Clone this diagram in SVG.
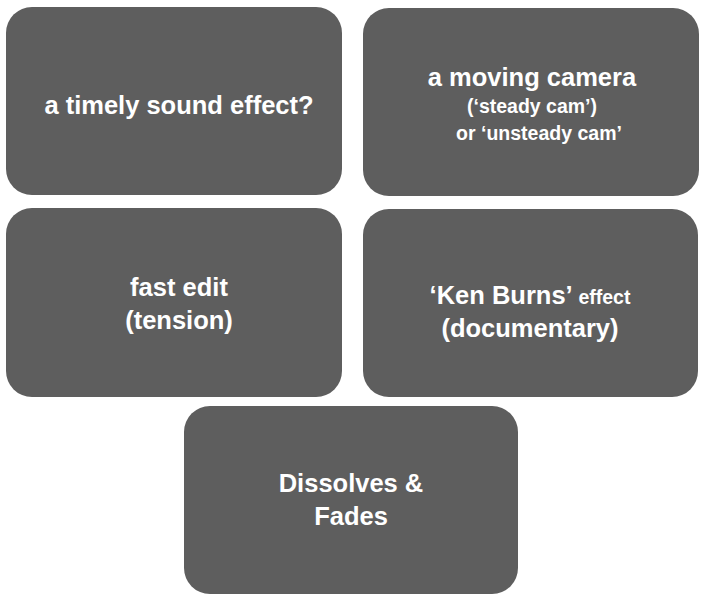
<svg xmlns="http://www.w3.org/2000/svg" width="706" height="599" viewBox="0 0 706 599">
<style>
.b{fill:#5e5e5e}
.t{font-family:"Liberation Sans",Arial,sans-serif;font-weight:bold;fill:#fff;text-anchor:middle;font-size:25.5px}
.s{font-size:19.5px}
</style>
<rect width="706" height="599" fill="#fff"/>
<g id="n1"><rect class="b" x="6" y="7" width="336" height="188" rx="26"/><text class="t" x="179" y="114">a timely sound effect?</text></g>
<g id="n2"><rect class="b" x="363" y="8" width="336" height="188" rx="26"/><text class="t" x="532" y="86">a moving camera</text><text class="t s" x="532" y="113">(‘steady cam’)</text><text class="t s" x="539" y="140">or ‘unsteady cam’</text></g>
<g id="n3"><rect class="b" x="6" y="208" width="336" height="189" rx="26"/><text class="t" x="179" y="296">fast edit</text><text class="t" x="179" y="329">(tension)</text></g>
<g id="n4"><rect class="b" x="363" y="209" width="335" height="188" rx="26"/><text class="t" x="530" y="304">‘Ken Burns’ <tspan class="s">effect</tspan></text><text class="t" x="530" y="337">(documentary)</text></g>
<g id="n5"><rect class="b" x="184" y="406" width="334" height="188" rx="26"/><text class="t" x="351" y="492">Dissolves &amp;</text><text class="t" x="351" y="525">Fades</text></g>
<g id="connectors"/>
</svg>
